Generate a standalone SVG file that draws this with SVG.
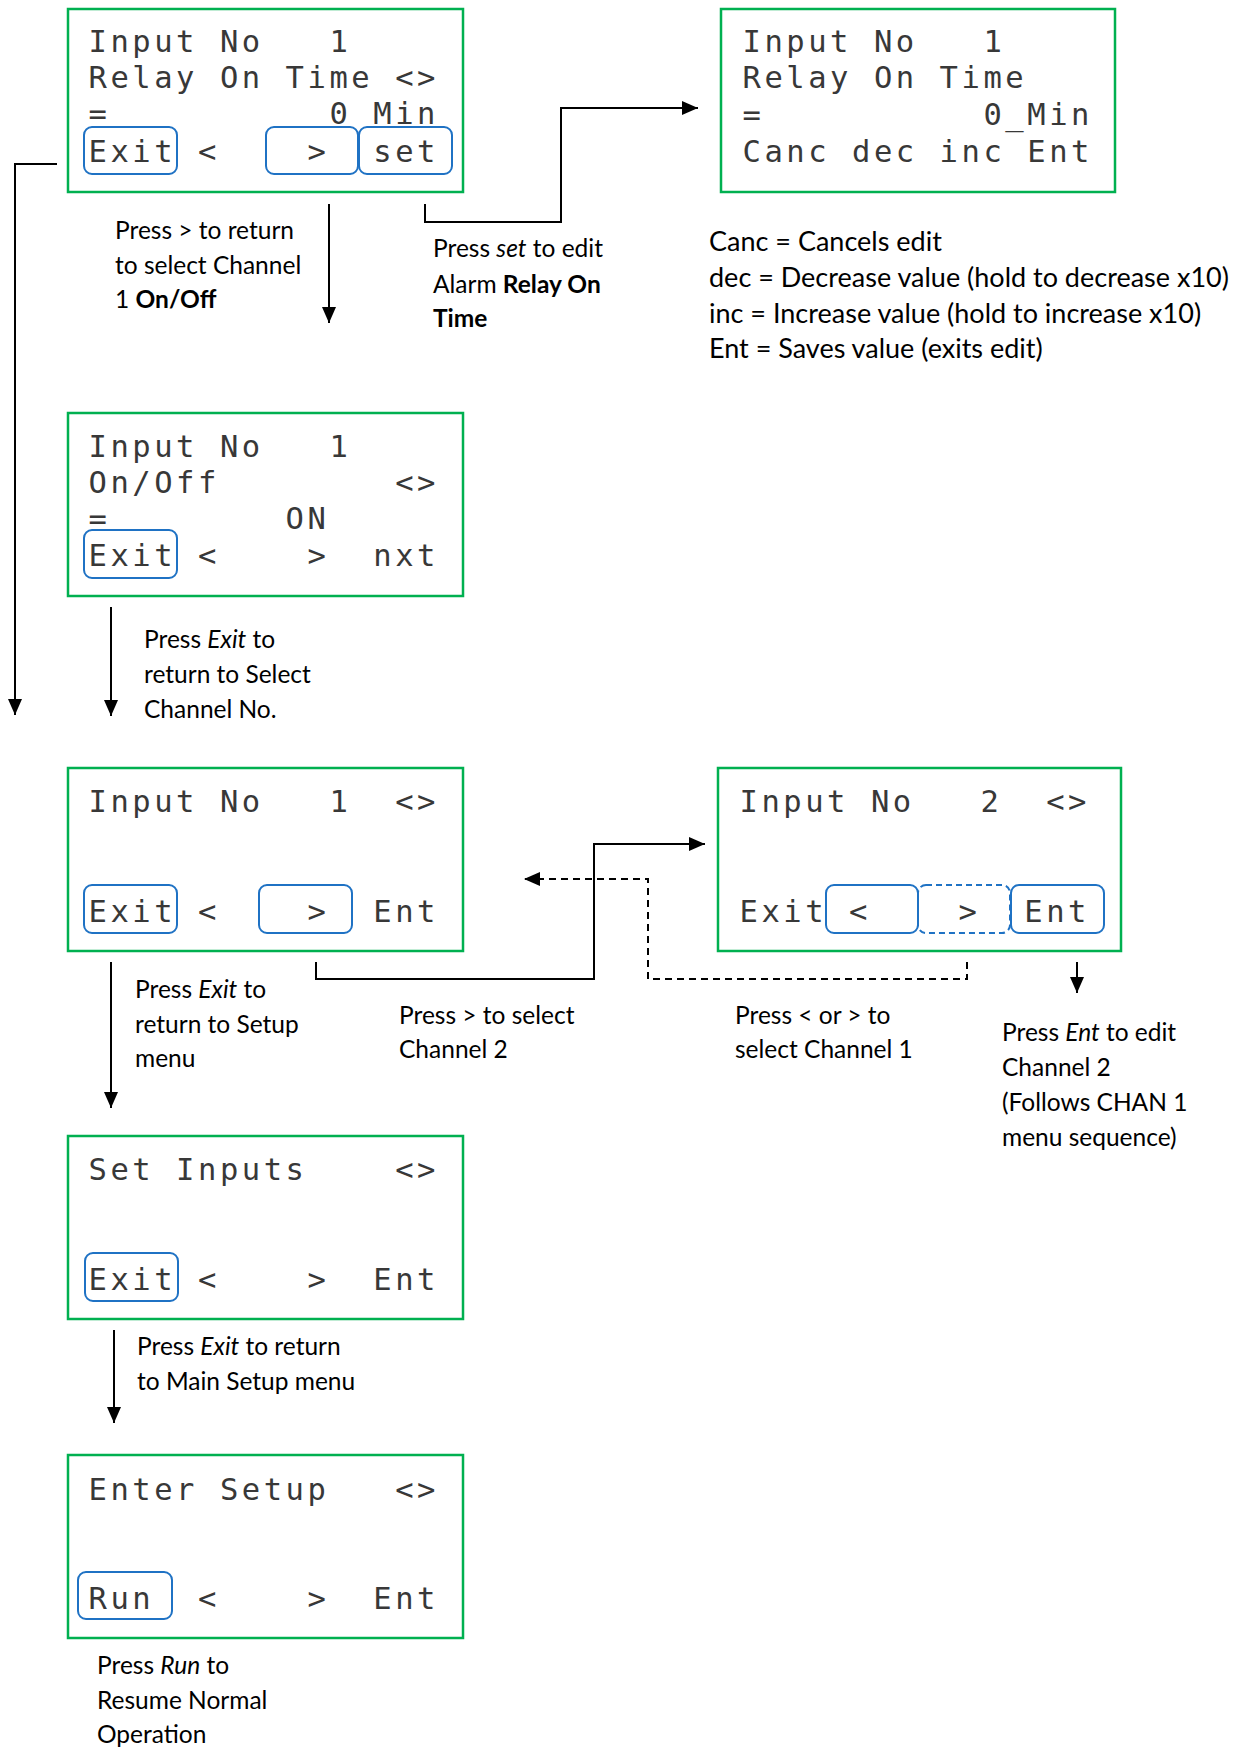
<svg xmlns="http://www.w3.org/2000/svg" width="1242" height="1749" viewBox="0 0 1242 1749">
<style>
.scr{fill:#fff;stroke:#00B050;stroke-width:2.5}
.btn{fill:none;stroke:#1F72C4;stroke-width:2}
.btnd{fill:none;stroke:#1F72C4;stroke-width:2;stroke-dasharray:6 4}
.lcd{font-family:"DejaVu Sans Mono","Liberation Mono",monospace;font-size:30.5px;letter-spacing:3.54px;fill:#383838}
.ann{font-family:Lato,"Open Sans",sans-serif;font-size:24.5px;fill:#000}
.leg{font-family:Lato,"Open Sans",sans-serif;font-size:27px;fill:#000}
.ln{fill:none;stroke:#000;stroke-width:2}
.dash{fill:none;stroke:#000;stroke-width:2;stroke-dasharray:7 5}
.b{font-weight:bold}
.i{font-style:italic}
</style>
<defs>
<marker id="ah" markerUnits="userSpaceOnUse" markerWidth="16" markerHeight="14" refX="16" refY="7" orient="auto">
<path d="M0,0 L16,7 L0,14 z" fill="#000"/>
</marker>
</defs>
<rect width="1242" height="1749" fill="#fff"/>

<g id="screen-relay-on-time">
<rect class="scr" x="68" y="9" width="395" height="183"/>
<text class="lcd" x="88.5" y="52" xml:space="preserve">Input No   1</text>
<text class="lcd" x="88.5" y="88" xml:space="preserve">Relay On Time &lt;&gt;</text>
<text class="lcd" x="88.5" y="124" xml:space="preserve">=          0 Min</text>
<text class="lcd" x="88.5" y="162" xml:space="preserve">Exit &lt;    &gt;  set</text>
<rect class="btn" x="84" y="127" width="93" height="47" rx="8"/>
<rect class="btn" x="266" y="127" width="92" height="47" rx="8"/>
<rect class="btn" x="359" y="127" width="93" height="47" rx="8"/>
</g>

<g id="screen-edit-relay-time">
<rect class="scr" x="721" y="9" width="394" height="183"/>
<text class="lcd" x="742.5" y="52" xml:space="preserve">Input No   1</text>
<text class="lcd" x="742.5" y="88" xml:space="preserve">Relay On Time</text>
<text class="lcd" x="742.5" y="125" xml:space="preserve">=          0_Min</text>
<text class="lcd" x="742.5" y="162" xml:space="preserve">Canc dec inc Ent</text>
</g>

<g id="screen-on-off">
<rect class="scr" x="68" y="413" width="395" height="183"/>
<text class="lcd" x="88.5" y="457" xml:space="preserve">Input No   1</text>
<text class="lcd" x="88.5" y="493" xml:space="preserve">On/Off        &lt;&gt;</text>
<text class="lcd" x="88.5" y="529" xml:space="preserve">=        ON</text>
<text class="lcd" x="88.5" y="566" xml:space="preserve">Exit &lt;    &gt;  nxt</text>
<rect class="btn" x="84" y="530" width="93" height="48" rx="8"/>
</g>

<g id="screen-input-1">
<rect class="scr" x="68" y="768" width="395" height="183"/>
<text class="lcd" x="88.5" y="812" xml:space="preserve">Input No   1  &lt;&gt;</text>
<text class="lcd" x="88.5" y="922" xml:space="preserve">Exit &lt;    &gt;  Ent</text>
<rect class="btn" x="84" y="885" width="93" height="48" rx="8"/>
<rect class="btn" x="259" y="885" width="93" height="48" rx="8"/>
</g>

<g id="screen-input-2">
<rect class="scr" x="718" y="768" width="403" height="183"/>
<text class="lcd" x="739.5" y="812" xml:space="preserve">Input No   2  &lt;&gt;</text>
<text class="lcd" x="739.5" y="922" xml:space="preserve">Exit &lt;    &gt;  Ent</text>
<rect class="btn" x="826" y="885" width="92" height="48" rx="8"/>
<rect class="btnd" x="918" y="885" width="92" height="48" rx="8"/>
<rect class="btn" x="1011" y="885" width="93" height="48" rx="8"/>
</g>

<g id="screen-set-inputs">
<rect class="scr" x="68" y="1136" width="395" height="183"/>
<text class="lcd" x="88.5" y="1180" xml:space="preserve">Set Inputs    &lt;&gt;</text>
<text class="lcd" x="88.5" y="1290" xml:space="preserve">Exit &lt;    &gt;  Ent</text>
<rect class="btn" x="85" y="1253" width="93" height="48" rx="8"/>
</g>

<g id="screen-enter-setup">
<rect class="scr" x="68" y="1455" width="395" height="183"/>
<text class="lcd" x="88.5" y="1500" xml:space="preserve">Enter Setup   &lt;&gt;</text>
<text class="lcd" x="88.5" y="1609" xml:space="preserve">Run  &lt;    &gt;  Ent</text>
<rect class="btn" x="78" y="1572" width="94" height="47" rx="8"/>
</g>

<g id="connectors">
<path class="ln" d="M57,164 H15 V715" marker-end="url(#ah)"/>
<path class="ln" d="M329,204 V323" marker-end="url(#ah)"/>
<path class="ln" d="M425,204 V222 H561 V108 H698" marker-end="url(#ah)"/>
<path class="ln" d="M111,607 V716" marker-end="url(#ah)"/>
<path class="ln" d="M111,962 V1108" marker-end="url(#ah)"/>
<path class="ln" d="M316,962 V979 H594 V844 H705" marker-end="url(#ah)"/>
<path class="dash" d="M967,962 V979 H648 V879 H524" marker-end="url(#ah)"/>
<path class="ln" d="M1077,962 V993" marker-end="url(#ah)"/>
<path class="ln" d="M114,1330 V1423" marker-end="url(#ah)"/>
</g>

<g id="labels">
<text class="ann" x="115" y="239">Press &gt; to return</text>
<text class="ann" x="115" y="274">to select Channel</text>
<text class="ann" x="115" y="308">1 <tspan class="b">On/Off</tspan></text>

<text class="ann" x="433" y="257">Press <tspan class="i">set</tspan> to edit</text>
<text class="ann" x="433" y="293">Alarm <tspan class="b">Relay On</tspan></text>
<text class="ann b" x="433" y="327">Time</text>

<text class="leg" x="709" y="251">Canc = Cancels edit</text>
<text class="leg" x="709" y="287">dec = Decrease value (hold to decrease x10)</text>
<text class="leg" x="709" y="323">inc = Increase value (hold to increase x10)</text>
<text class="leg" x="709" y="358">Ent = Saves value (exits edit)</text>

<text class="ann" x="144" y="648">Press <tspan class="i">Exit</tspan> to</text>
<text class="ann" x="144" y="683">return to Select</text>
<text class="ann" x="144" y="718">Channel No.</text>

<text class="ann" x="135" y="998">Press <tspan class="i">Exit</tspan> to</text>
<text class="ann" x="135" y="1033">return to Setup</text>
<text class="ann" x="135" y="1067">menu</text>

<text class="ann" x="399" y="1024">Press &gt; to select</text>
<text class="ann" x="399" y="1058">Channel 2</text>

<text class="ann" x="735" y="1024">Press &lt; or &gt; to</text>
<text class="ann" x="735" y="1058">select Channel 1</text>

<text class="ann" x="1002" y="1041">Press <tspan class="i">Ent</tspan> to edit</text>
<text class="ann" x="1002" y="1076">Channel 2</text>
<text class="ann" x="1002" y="1111">(Follows CHAN 1</text>
<text class="ann" x="1002" y="1146">menu sequence)</text>

<text class="ann" x="137" y="1355">Press <tspan class="i">Exit</tspan> to return</text>
<text class="ann" x="137" y="1390">to Main Setup menu</text>

<text class="ann" x="97" y="1674">Press <tspan class="i">Run</tspan> to</text>
<text class="ann" x="97" y="1709">Resume Normal</text>
<text class="ann" x="97" y="1743">Operation</text>
</g>
</svg>
